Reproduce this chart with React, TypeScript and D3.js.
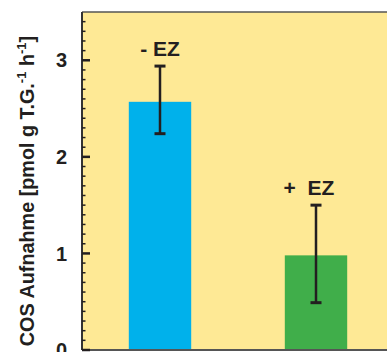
import React from 'react';
import * as d3 from 'd3';

// COS uptake with / without EZ
const categories = ['- EZ', '+  EZ'];
const values = [2.57, 0.98];
const errLow = [2.24, 0.49];
const errHigh = [2.94, 1.5];
const barColors = ['#00b1eb', '#40ae4a'];
const yTicks = [0, 1, 2, 3];

const W = 387;
const H = 352;
const margin = { top: 12, left: 82, bottom: 2 };
const font = '"Liberation Sans", Arial, sans-serif';

const App = () => {
  const y = d3.scaleLinear()
    .domain([0, 3.5])
    .range([H - margin.bottom, margin.top]);

  const x = d3.scaleBand()
    .domain(categories)
    .range([margin.left, 394])
    .paddingInner(0.6)
    .paddingOuter(0.3);

  const minor = d3.range(0, 35).map(d => d / 10).filter(d => !yTicks.includes(d));
  const y0 = y(0);

  return (
    <svg width={W} height={H} style={{ position: 'absolute', left: 0, top: 0 }}>
      <rect x={margin.left} y={margin.top} width={W - margin.left} height={y0 - margin.top} fill="#fee995" />

      {categories.map((c, i) => {
        const cx = x(c) + x.bandwidth() / 2;
        return (
          <g key={c}>
            <rect x={x(c)} y={y(values[i])} width={x.bandwidth()} height={y0 - y(values[i])} fill={barColors[i]} />
            <line x1={cx} x2={cx} y1={y(errLow[i])} y2={y(errHigh[i])} stroke="#231f20" strokeWidth={2.5} />
            <line x1={cx - 5.5} x2={cx + 5.5} y1={y(errLow[i])} y2={y(errLow[i])} stroke="#231f20" strokeWidth={3} />
            <line x1={cx - 5.5} x2={cx + 5.5} y1={y(errHigh[i])} y2={y(errHigh[i])} stroke="#231f20" strokeWidth={3} />
            <text x={cx + (i === 1 ? -7 : 0)} y={y(errHigh[i]) - 10} textAnchor="middle"
              fontFamily={font} fontWeight="bold" fontSize={21} fill="#231f20"
              style={{ whiteSpace: 'pre' }}>{c}</text>
          </g>
        );
      })}

      {/* frame */}
      <line x1={margin.left} x2={W} y1={margin.top} y2={margin.top} stroke="#555" strokeWidth={1.5} />
      <line x1={margin.left} x2={W} y1={y0} y2={y0} stroke="#555" strokeWidth={2} />
      <line x1={margin.left} x2={margin.left} y1={margin.top} y2={y0} stroke="#333" strokeWidth={2} />

      {minor.map(d => (
        <line key={d} x1={margin.left} x2={margin.left + 3.5} y1={y(d)} y2={y(d)} stroke="#231f20" strokeWidth={1.5} />
      ))}
      {yTicks.map(d => (
        <g key={d}>
          <line x1={margin.left} x2={margin.left + 8} y1={y(d)} y2={y(d)} stroke="#231f20" strokeWidth={2.5} />
          <text x={margin.left - 15} y={y(d)} dy="0.36em" textAnchor="end"
            fontFamily={font} fontWeight="bold" fontSize={20} fill="#231f20">{d}</text>
        </g>
      ))}

      <text transform={`translate(34,${(margin.top + y0) / 2 + 10}) rotate(-90)`} textAnchor="middle"
        fontFamily={font} fontWeight="bold" fontSize={19.8} fill="#231f20">
        COS Aufnahme [pmol g T.G.
        <tspan fontSize={13} dy={-8}>-1</tspan>
        <tspan fontSize={19.8} dy={8}> h</tspan>
        <tspan fontSize={13} dy={-8}>-1</tspan>
        <tspan fontSize={19.8} dy={8}>]</tspan>
      </text>
    </svg>
  );
};

export default App;
